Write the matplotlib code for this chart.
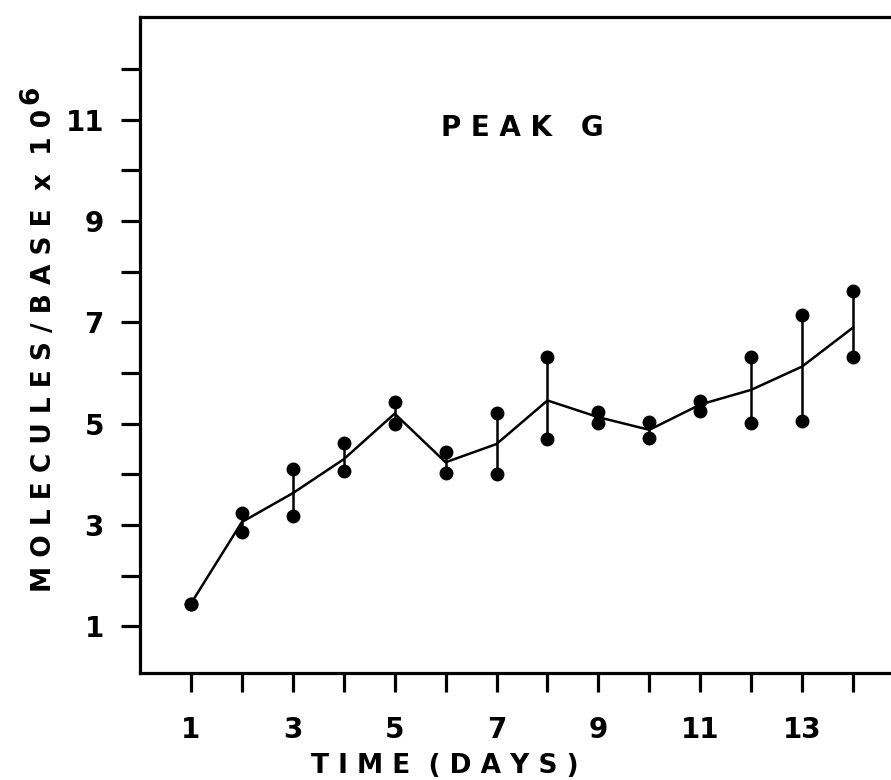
import matplotlib
matplotlib.use("Agg")
import matplotlib.pyplot as plt

# Peak G: two measurements per day and their mean
days = [1, 2, 3, 4, 5, 6, 7, 8, 9, 10, 11, 12, 13, 14]
mean_vals = [1.45, 3.06, 3.63, 4.30, 5.20, 4.24, 4.60, 5.46, 5.13, 4.88, 5.38, 5.67, 6.13, 6.90]
low_vals = [1.45, 2.86, 3.17, 4.06, 5.00, 4.02, 4.01, 4.69, 5.02, 4.72, 5.25, 5.02, 5.06, 6.32]
high_vals = [1.45, 3.24, 4.10, 4.62, 5.42, 4.45, 5.22, 6.32, 5.23, 5.03, 5.45, 6.32, 7.14, 7.63]

x_tick_labels = ["1", "", "3", "", "5", "", "7", "", "9", "", "11", "", "13", ""]
y_ticks = [1, 2, 3, 4, 5, 6, 7, 8, 9, 10, 11, 12]
y_tick_labels = ["1", "", "3", "", "5", "", "7", "", "9", "", "11", ""]

title_text = "P E A K   G"
x_label_text = "T I M E  ( D A Y S )"
y_label_text = "M O L E C U L E S / B A S E  x  1 0"
y_label_power = "6"

plt.rcParams["font.family"] = ["DejaVu Sans"]
plt.rcParams["font.weight"] = "bold"

W, H = 891, 780
fig = plt.figure(figsize=(W / 100, H / 100), dpi=100)
fig.patch.set_facecolor("white")

# the frame runs past the right edge of the sheet
ax = fig.add_axes([140 / W, 107 / H, 764 / W, 656 / H])

ax.plot(days, mean_vals, color="black", lw=1.8, zorder=3)
ax.vlines(days, low_vals, high_vals, color="black", lw=1.8, zorder=2)
ax.plot(days, low_vals, "o", ms=9, color="black", zorder=4)
ax.plot(days, high_vals, "o", ms=9, color="black", zorder=4)

ax.set_xlim(0, 15)
ax.set_ylim(0.08, 13.03)
ax.set_xticks(days)
ax.set_xticklabels(x_tick_labels)
ax.set_yticks(y_ticks)
ax.set_yticklabels(y_tick_labels)

for sp in ax.spines.values():
    sp.set_linewidth(2.3)
ax.tick_params(direction="out", length=14, width=2.3, labelsize=20, colors="black")
ax.tick_params(axis="x", pad=17)
ax.tick_params(axis="y", pad=12)

fig.text(522 / W, 1 - 128 / H, title_text, ha="center", va="center",
         fontsize=20, fontweight="bold")
fig.text(445 / W, 1 - 766 / H, x_label_text, ha="center", va="center",
         fontsize=19, fontweight="bold")
yl = fig.text(44 / W, 1 - 350 / H, y_label_text, ha="center", va="center",
              rotation=90, fontsize=19, fontweight="bold")

fig.canvas.draw()
bb = yl.get_window_extent()
# raised exponent: shifted toward the top of the rotated letters
fig.text((bb.x0 - 13) / W, (bb.y1 + 4) / H, y_label_power, ha="left", va="bottom",
         rotation=90, fontsize=19, fontweight="bold")

fig.savefig("out.png", dpi=100, facecolor="white")
